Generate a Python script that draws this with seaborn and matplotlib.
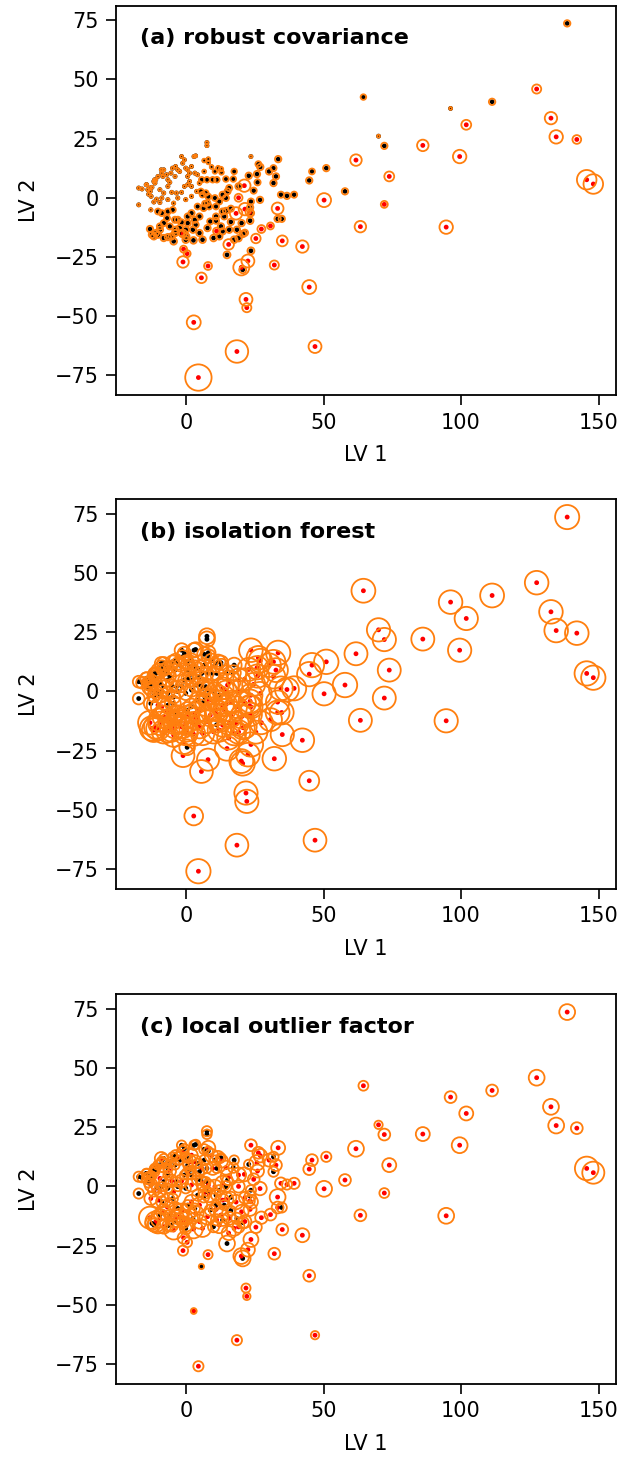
import matplotlib
matplotlib.use("Agg")
import matplotlib.pyplot as plt
from matplotlib.ticker import MultipleLocator
import pandas as pd
import seaborn as sns

# Latent-variable scores (LV 1, LV 2) of the samples
lv1 = [
    # upper-left core
    -17.2, -16.0, -17.2, -14.3, -13.9, -13.0, -13.6, -12.7, -12.4, -11.7,
    -11.0, -10.2, -11.3, -12.8, -11.7, -10.7, -9.5, -8.8, -8.1, -8.4,
    -7.1, -6.6, -5.9, -6.6, -5.5, -4.9, -3.8, -3.0, -4.0, -2.3,
    -1.6, -1.2, -0.6, -0.1, 0.6, 1.3, 0.6, 2.9, 3.5, 2.0,
    3.2, 4.2, 0.6, 2.0, -0.6, -1.6, -3.5, -5.2, -8.1, -9.5,
    -8.8, -6.6, -4.5, -3.0, -0.1, 2.0, 3.9, 1.3, -9.0, -11.4,
    -14.5, -13.2,
    7.6, 7.6, 6.6, 8.1, 8.1, 11.7, 12.7, 12.9, 9.3, 10.5,
    6.6, 17.5, 5.7, 7.6, 9.7, 11.2, 14.5, 17.2, 4.9, 23.6,
    # lower cluster
    -10.2, -8.8, -6.6, -4.8, -4.0, -3.0, -1.6, 0.6, 2.0, 4.2,
    4.9, 3.2, 0.6, -0.1, -1.6, -3.8, -5.9, -8.1, -9.5, -11.0,
    -11.7, -10.2, -8.1, -6.6, -4.5, -5.2, -13.1, -12.4, -9.5, -6.9,
    -4.0, -2.3, 0.1, 2.5, 3.5, 2.7, -0.1, 4.9,
    15.7, 15.1, 13.3, 14.5, 10.5, 12.1, 6.9, 7.8, 5.4, 6.0, 7.2, 8.1, 19.1,
    6.4, 8.4, 10.9, 14.5, 16.3, 13.3, 13.9, 7.8, 8.8, 10.9,
    10.9, 12.7, 13.3, 12.1, 10.0, 6.0, 15.7, 18.5, 17.5, 20.7,
    14.9, 20.2, 23.3, 23.6, 23.3, 23.6, 20.6,
    # right-hand spread
    26.3, 27.0, 30.2, 31.8, 33.5, 25.8, 32.7, 31.8, 26.0, 22.8,
    24.6, 26.9, 23.6, 34.5, 36.7, 39.3, 44.8, 45.8, 51.0, 57.8,
    72.1, 70.0, 64.5, 96.2, 111.3, 138.6, 33.3, 34.8, 16.3, 21.4, 19.1,
    # extreme samples
    145.7, 148.1, 127.5, 132.7, 134.6, 142.1, 101.9, 99.5, 86.1, 94.6,
    73.9, 72.1, 63.4, 61.8, 50.2, 46.9, 44.8, 42.3, 35.0, 33.3,
    32.1, 30.7, 27.4, 25.4, 22.5, 20.1, 21.8, 22.1, 18.5, 4.5,
    2.8, 5.6, 8.0, -1.1, 0.4, -0.9, -1.1, 11.1, 15.5, 18.2,
    21.4, 23.1, 21.2, 19.1,
]
lv2 = [
    4.1, 3.7, -3.0, 5.5, 3.4, 2.7, 1.5, 0.6, 4.4, 6.9,
    7.6, 9.0, 6.2, -5.1, -1.8, -0.6, -2.0, 10.4, 11.8, 9.0,
    9.7, 7.6, 6.5, 4.8, 10.4, 12.5, 13.2, 11.8, 9.0, 11.1,
    17.4, 14.6, 16.0, 12.5, 11.8, 10.4, 9.0, 17.4, 17.7, 13.2,
    10.4, 9.7, 5.5, 4.8, 4.8, 2.3, 2.0, 2.3, 2.0, 3.4,
    -0.1, -0.8, -2.3, -0.1, -0.8, 0.6, 2.7, 6.9, 11.8, 7.6,
    5.5, 4.1,
    23.3, 22.0, 15.7, 16.3, 14.9, 12.5, 12.1, 10.7, 13.0, 11.1,
    11.1, 11.1, 7.6, 7.6, 7.6, 7.6, 7.9, 7.9, 6.2, 17.4,
    -5.8, -6.5, -5.8, -5.1, -9.3, -9.3, -10.4, -7.9, -6.5, -3.7,
    -7.9, -9.3, -10.7, -13.5, -14.9, -13.5, -12.1, -10.7, -13.5, -14.9,
    -16.3, -15.6, -17.0, -16.6, -18.4, -16.3, -13.2, -15.6, -12.1, -8.6,
    -14.9, -12.8, -16.3, -13.5, -11.4, -18.0, -17.7, -14.9,
    4.1, 2.7, 1.3, -0.1, -0.1, -1.6, -2.5, -2.2, 2.7, 1.3, 2.0, 0.5, 4.8,
    -4.4, -3.7, -3.7, -5.5, -4.6, -5.8, -7.9, -12.8, -10.0, -9.7,
    -7.9, -12.1, -14.2, -16.3, -17.0, -17.7, -13.5, -13.5, -17.7, -15.3,
    -24.1, -10.7, -9.7, -6.5, -4.1, -22.4, -30.4,
    14.2, 13.0, 11.1, 12.5, 16.3, 10.0, 9.0, 6.2, 6.5, 9.3,
    3.0, -0.9, -1.6, 1.3, 0.8, 1.3, 7.3, 11.1, 12.5, 2.7,
    21.9, 26.0, 42.5, 37.7, 40.5, 73.6, -8.9, -8.9, -10.2, -14.8, -17.1,
    7.6, 5.8, 45.9, 33.6, 25.7, 24.6, 30.8, 17.4, 22.1, -12.4,
    9.0, -2.8, -12.2, 15.9, -1.0, -62.8, -37.7, -20.6, -18.2, -4.5,
    -28.4, -11.9, -13.2, -17.2, -26.7, -29.4, -42.9, -46.4, -64.9, -75.9,
    -52.6, -33.8, -28.8, -27.1, -23.6, -21.7, -15.1, -14.1, -19.7, -6.6,
    -4.8, -6.2, 5.1, 0.0,
]

# Robust covariance (minimum covariance determinant): scaled outlier score and label
mcd_score = [
    .012, .012, .012, .012, .012, .012, .012, .012, .012, .012,
    .012, .012, .012, .015, .012, .012, .012, .012, .012, .012,
    .012, .012, .012, .012, .012, .012, .012, .012, .012, .012,
    .012, .012, .012, .012, .012, .012, .012, .012, .012, .012,
    .012, .012, .012, .012, .012, .012, .012, .012, .012, .012,
    .012, .012, .015, .012, .015, .015, .015, .012, .012, .012,
    .012, .012,
    .012, .012, .02, .02, .02, .03, .03, .03, .02, .03,
    .02, .045, .045, .045, .045, .045, .045, .045, .02, .012,
    .05, .05, .05, .05, .055, .055, .055, .055, .055, .05,
    .055, .055, .055, .06, .06, .06, .055, .055, .06, .06,
    .06, .06, .06, .06, .065, .06, .06, .06, .055, .05,
    .06, .06, .06, .06, .055, .065, .065, .06,
    .055, .055, .055, .055, .05, .05, .05, .05, .045, .045, .045, .05, .06,
    .05, .05, .05, .055, .055, .055, .055, .06, .055, .055,
    .055, .06, .06, .06, .065, .065, .06, .06, .065, .06,
    .07, .06, .065, .06, .06, .07, .07,
    .05, .06, .06, .055, .06, .06, .06, .06, .055, .06,
    .055, .06, .055, .055, .06, .055, .06, .05, .06, .06,
    .06, .012, .045, .012, .06, .06, .06, .06, .06, .06, .06,
    .55, .55, .12, .22, .26, .11, .14, .26, .19, .26,
    .14, .07, .19, .19, .28, .24, .28, .22, .17, .20,
    .12, .07, .09, .13, .24, .37, .24, .12, .73, 1.0,
    .28, .16, .09, .19, .07, .07, .09, .07, .16, .22,
    .22, .09, .22, .09,
]
mcd_outlier = [
    0, 0, 0, 0, 0, 0, 0, 0, 0, 0, 0, 0, 0, 0, 0, 0, 0, 0, 0, 0,
    0, 0, 0, 0, 0, 0, 0, 0, 0, 0, 0, 0, 0, 0, 0, 0, 0, 0, 0, 0,
    0, 0, 0, 0, 0, 0, 0, 0, 0, 0, 0, 0, 0, 0, 0, 0, 0, 0, 0, 0,
    0, 0,
    0, 0, 0, 0, 0, 0, 0, 0, 0, 0, 0, 0, 0, 0, 0, 0, 0, 0, 0, 0,
    0, 0, 0, 0, 0, 0, 0, 0, 0, 0, 0, 0, 0, 0, 0, 0, 0, 0, 0, 0,
    0, 0, 0, 0, 0, 0, 0, 0, 0, 0, 0, 0, 0, 0, 0, 0, 0, 0,
    0, 0, 0, 0, 0, 0, 0, 0, 0, 0, 0, 0, 0,
    0, 0, 0, 0, 0, 0, 0, 0, 0, 0, 0, 0, 0, 0, 0, 0, 0, 0, 0, 0,
    0, 0, 0, 0, 0, 0, 0,
    0, 0, 0, 0, 0, 0, 0, 0, 0, 0, 0, 0, 0, 0, 0, 0, 0, 0, 0, 0,
    0, 0, 0, 0, 0, 0, 0, 0, 0, 0, 0,
    1, 1, 1, 1, 1, 1, 1, 1, 1, 1, 1, 1, 1, 1, 1, 1, 1, 1, 1, 1,
    1, 1, 1, 1, 1, 1, 1, 1, 1, 1, 1, 1, 1, 1, 1, 1, 1, 1, 1, 1,
    1, 1, 1, 1,
]

# Isolation forest
if_score = [
    .20, .20, .20, .22, .22, .22, .22, .24, .22, .22,
    .22, .24, .22, .28, .24, .24, .26, .24, .24, .22,
    .22, .22, .22, .22, .22, .24, .24, .22, .22, .22,
    .28, .26, .26, .24, .24, .24, .22, .30, .30, .26,
    .24, .24, .22, .22, .22, .22, .22, .22, .22, .22,
    .24, .24, .26, .24, .26, .26, .26, .22, .24, .22,
    .21, .22,
    .36, .36, .28, .30, .28, .30, .30, .30, .28, .28,
    .26, .32, .26, .26, .28, .28, .30, .32, .25, .80,
    .72, .68, .36, .36, .38, .38, .42, .38, .38, .38,
    .68, .70, .72, .75, .75, .72, .72, .72, .78, .80,
    .82, .80, .80, .78, .80, .78, .82, .85, .75, .70,
    .78, .75, .78, .75, .72, .80, .80, .78,
    .72, .70, .68, .70, .48, .52, .42, .42, .36, .36, .38, .40, .76,
    .42, .58, .62, .72, .75, .72, .72, .75, .72, .72,
    .70, .76, .78, .78, .80, .80, .78, .80, .82, .80,
    .85, .78, .80, .78, .78, .85, .85,
    .80, .80, .80, .82, .85, .78, .82, .80, .78, .76,
    .76, .78, .76, .82, .82, .84, .85, .85, .86, .86,
    .78, .78, .82, .80, .82, .84, .82, .82, .76, .80, .80,
    .85, .85, .80, .80, .80, .80, .78, .78, .76, .78,
    .76, .76, .76, .76, .78, .75, .57, .80, .78, .78,
    .80, .76, .76, .76, .80, .82, .78, .78, .75, .85,
    .50, .75, .70, .75, .35, .72, .68, .35, .75, .68,
    .70, .70, .70, .68,
]
if_outlier = [
    0, 0, 0, 0, 0, 0, 0, 0, 0, 0, 0, 0, 0, 0, 0, 0, 0, 0, 0, 0,
    0, 0, 0, 0, 0, 0, 0, 0, 0, 0, 0, 0, 0, 0, 0, 0, 0, 0, 0, 0,
    0, 0, 0, 0, 0, 0, 0, 0, 0, 0, 0, 0, 0, 0, 0, 0, 0, 0, 0, 0,
    0, 0,
    0, 0, 0, 0, 0, 0, 0, 0, 0, 0, 0, 0, 0, 0, 0, 0, 0, 0, 0, 1,
    1, 1, 0, 0, 0, 0, 0, 0, 0, 0, 1, 1, 1, 1, 1, 1, 1, 1, 1, 1,
    1, 1, 1, 1, 1, 1, 1, 1, 1, 1, 1, 1, 1, 1, 1, 1, 1, 1,
    1, 1, 1, 1, 0, 0, 0, 0, 0, 0, 0, 0, 1,
    0, 1, 1, 1, 1, 1, 1, 1, 1, 1, 1, 1, 1, 1, 1, 1, 1, 1, 1, 1,
    1, 1, 1, 1, 1, 1, 1,
    1, 1, 1, 1, 1, 1, 1, 1, 1, 1, 1, 1, 1, 1, 1, 1, 1, 1, 1, 1,
    1, 1, 1, 1, 1, 1, 1, 1, 1, 1, 1,
    1, 1, 1, 1, 1, 1, 1, 1, 1, 1, 1, 1, 1, 1, 1, 1, 1, 1, 1, 1,
    1, 1, 1, 1, 1, 1, 1, 1, 1, 1, 1, 1, 1, 1, 0, 1, 1, 0, 1, 1,
    1, 1, 1, 1,
]

# Local outlier factor
lof_score = [
    .15, .13, .15, .13, .20, .12, .13, .24, .12, .13,
    .12, .13, .12, .24, .20, .13, .22, .15, .12, .28,
    .12, .13, .22, .12, .13, .12, .15, .24, .12, .13,
    .13, .20, .12, .13, .12, .28, .12, .13, .13, .22,
    .26, .13, .20, .12, .12, .24, .13, .22, .13, .26,
    .12, .13, .28, .12, .15, .24, .13, .12, .24, .13,
    .12, .15,
    .15, .13, .15, .28, .12, .20, .13, .24, .26, .13,
    .15, .13, .22, .13, .24, .13, .28, .15, .13, .20,
    .34, .18, .28, .15, .24, .13, .32, .15, .28, .18,
    .34, .15, .38, .24, .15, .42, .18, .34, .50, .62,
    .24, .58, .28, .18, .52, .24, .70, .26, .20, .32,
    .20, .38, .24, .15, .36, .50, .20, .28,
    .42, .15, .32, .18, .28, .15, .24, .13, .15, .24, .13, .20, .32,
    .18, .28, .15, .32, .18, .24, .15, .36, .18, .28,
    .13, .32, .20, .38, .18, .42, .24, .18, .32, .20,
    .36, .28, .24, .28, .18, .32, .36,
    .20, .26, .24, .15, .28, .34, .20, .15, .24, .13,
    .20, .26, .15, .20, .15, .18, .20, .20, .15, .20,
    .20, .10, .14, .20, .20, .36, .20, .15, .13, .24, .20,
    .80, .70, .36, .36, .36, .20, .28, .36, .28, .36,
    .28, .14, .20, .36, .36, .10, .20, .28, .20, .36,
    .20, .20, .22, .20, .28, .36, .12, .08, .15, .15,
    .05, .04, .12, .15, .14, .20, .22, .18, .28, .30,
    .20, .16, .28, .22,
]
lof_outlier = [
    0, 0, 0, 0, 1, 0, 0, 1, 0, 0, 0, 0, 0, 1, 1, 0, 1, 0, 0, 1,
    0, 0, 1, 0, 0, 0, 0, 1, 0, 0, 0, 1, 0, 0, 0, 1, 0, 0, 0, 1,
    1, 0, 1, 0, 0, 1, 0, 1, 0, 1, 0, 0, 1, 0, 0, 1, 0, 0, 1, 0,
    0, 0,
    0, 0, 0, 1, 0, 1, 0, 1, 1, 0, 0, 0, 1, 0, 1, 0, 1, 0, 0, 1,
    1, 0, 1, 0, 1, 0, 1, 0, 1, 0, 1, 0, 1, 1, 0, 1, 0, 1, 1, 1,
    0, 1, 1, 0, 1, 0, 1, 0, 0, 1, 0, 1, 1, 0, 1, 1, 0, 1,
    1, 0, 1, 0, 1, 0, 1, 0, 0, 1, 0, 1, 1,
    0, 1, 0, 1, 0, 1, 0, 1, 0, 1, 0, 1, 0, 1, 0, 1, 1, 0, 1, 0,
    0, 1, 1, 1, 0, 1, 0,
    1, 1, 1, 0, 1, 1, 1, 0, 1, 0, 1, 1, 0, 1, 1, 1, 1, 1, 1, 1,
    1, 1, 1, 1, 1, 1, 1, 0, 0, 1, 1,
    1, 1, 1, 1, 1, 1, 1, 1, 1, 1, 1, 1, 1, 1, 1, 1, 1, 1, 1, 1,
    1, 1, 1, 1, 1, 1, 1, 1, 1, 1, 1, 0, 1, 1, 1, 1, 1, 1, 1, 1,
    1, 1, 1, 1,
]

panel_titles = ["(a) robust covariance", "(b) isolation forest",
                "(c) local outlier factor"]

plt.rcParams.update({
    "font.family": ["DejaVu Sans"],
    "font.size": 15,
    "axes.linewidth": 1.3,
    "xtick.major.size": 7,
    "ytick.major.size": 7,
    "xtick.major.width": 1.2,
    "ytick.major.width": 1.2,
    "xtick.major.pad": 5.5,
    "ytick.major.pad": 5.5,
    "xtick.labelsize": 15,
    "ytick.labelsize": 15,
    "axes.labelsize": 15,
})

base = pd.DataFrame({"LV 1": lv1, "LV 2": lv2})
panels = [
    (mcd_score, mcd_outlier),
    (if_score, if_outlier),
    (lof_score, lof_outlier),
]

fig = plt.figure(figsize=(6.21, 14.58), dpi=100)
bottoms = [0.7289, 0.3903, 0.0508]

for title, (score, flag), bottom in zip(panel_titles, panels, bottoms):
    ax = fig.add_axes([0.1868, bottom, 0.8052, 0.2672])
    d = base.assign(score=score, outlier=flag)
    # samples: black = inlier, red = flagged outlier
    sns.scatterplot(data=d, x="LV 1", y="LV 2", hue="outlier",
                    palette={0: "k", 1: "r"}, s=12, linewidth=0,
                    legend=False, ax=ax, zorder=2)
    # hollow rings whose area follows the outlier score
    sns.scatterplot(data=d, x="LV 1", y="LV 2", size="score",
                    sizes=(0, 360), size_norm=(0, 1), color="C1",
                    edgecolor="C1", facecolors="none", linewidth=1.3,
                    legend=False, ax=ax, zorder=3)
    ax.xaxis.set_major_locator(MultipleLocator(50))
    ax.yaxis.set_major_locator(MultipleLocator(25))
    ax.set_xlabel("LV 1", labelpad=9)
    ax.set_ylabel("LV 2", labelpad=11)
    ax.text(0.048, 0.917, title, transform=ax.transAxes, fontsize=16,
            fontweight="bold", ha="left", va="center")

fig.savefig("out.png", dpi=100)
